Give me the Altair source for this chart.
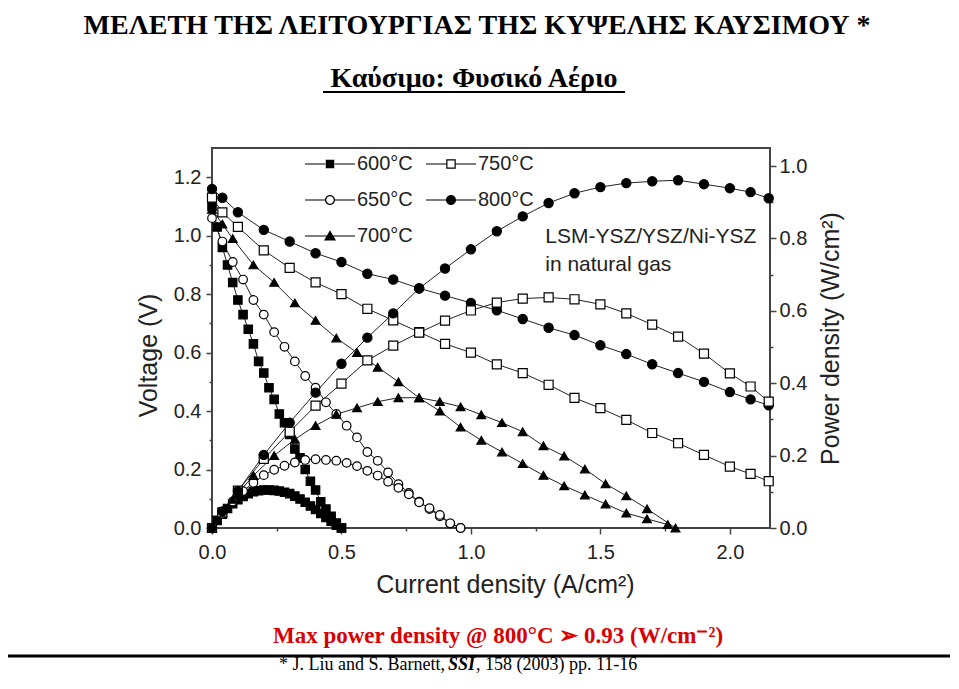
import altair as alt
import pandas as pd

# ---------------- data ----------------
TEMPS = ["600°C", "650°C", "700°C", "750°C", "800°C"]

I_600 = [0.00, 0.02, 0.04, 0.06, 0.08, 0.10, 0.12, 0.14, 0.16, 0.18, 0.20, 0.22, 0.24,
         0.26, 0.28, 0.30, 0.32, 0.34, 0.36, 0.38, 0.40, 0.42, 0.44, 0.46, 0.48, 0.50]
V_600 = [1.10, 1.03, 0.96, 0.90, 0.84, 0.78, 0.73, 0.68, 0.63, 0.57, 0.53, 0.48, 0.44,
         0.39, 0.36, 0.32, 0.27, 0.24, 0.20, 0.16, 0.13, 0.09, 0.065, 0.04, 0.017, 0.0]
P_600 = [0.0, 0.021, 0.038, 0.054, 0.067, 0.078, 0.087, 0.095, 0.100, 0.103, 0.105, 0.105, 0.104,
         0.102, 0.099, 0.095, 0.088, 0.080, 0.071, 0.061, 0.051, 0.040, 0.029, 0.019, 0.008, 0.0]

I_650 = [0.00, 0.04, 0.08, 0.12, 0.16, 0.20, 0.24, 0.28, 0.32, 0.36, 0.40, 0.44, 0.48,
         0.52, 0.56, 0.60, 0.64, 0.68, 0.72, 0.76, 0.80, 0.84, 0.88, 0.92, 0.96]
V_650 = [1.06, 0.98, 0.91, 0.85, 0.78, 0.73, 0.67, 0.62, 0.57, 0.52, 0.48, 0.43, 0.39,
         0.35, 0.31, 0.26, 0.23, 0.19, 0.15, 0.12, 0.09, 0.065, 0.04, 0.015, 0.0]
P_650 = [0.0, 0.039, 0.073, 0.102, 0.125, 0.146, 0.161, 0.172, 0.181, 0.188, 0.190, 0.188, 0.186,
         0.180, 0.171, 0.158, 0.145, 0.128, 0.111, 0.093, 0.071, 0.055, 0.036, 0.013, 0.0]

I_700 = [0.00, 0.04, 0.08, 0.16, 0.24, 0.32, 0.40, 0.48, 0.56, 0.64, 0.72, 0.80,
         0.88, 0.96, 1.04, 1.12, 1.20, 1.28, 1.36, 1.44, 1.52, 1.60, 1.68, 1.76]
V_700 = [1.09, 1.04, 0.99, 0.90, 0.84, 0.77, 0.71, 0.65, 0.60, 0.55, 0.50, 0.445,
         0.40, 0.345, 0.30, 0.26, 0.22, 0.18, 0.144, 0.113, 0.082, 0.051, 0.031, 0.012]
I_700P = [0.00, 0.04, 0.08, 0.16, 0.24, 0.32, 0.40, 0.48, 0.56, 0.64, 0.72, 0.80,
          0.88, 0.96, 1.04, 1.12, 1.20, 1.28, 1.36, 1.44, 1.52, 1.60, 1.68, 1.79]
P_700 = [0.0, 0.042, 0.079, 0.145, 0.200, 0.245, 0.283, 0.314, 0.332, 0.349, 0.360, 0.360,
         0.349, 0.335, 0.313, 0.291, 0.266, 0.227, 0.199, 0.163, 0.122, 0.089, 0.053, 0.0]

I_HI = [0.00, 0.04, 0.10, 0.20, 0.30, 0.40, 0.50, 0.60, 0.70, 0.80, 0.90, 1.00,
        1.10, 1.20, 1.30, 1.40, 1.50, 1.60, 1.70, 1.80, 1.90, 2.00, 2.08, 2.15]
V_750 = [1.13, 1.08, 1.03, 0.95, 0.89, 0.84, 0.80, 0.75, 0.71, 0.67, 0.63, 0.60,
         0.56, 0.53, 0.49, 0.445, 0.41, 0.37, 0.325, 0.29, 0.25, 0.21, 0.185, 0.16]
P_750 = [0.0, 0.043, 0.103, 0.191, 0.266, 0.338, 0.399, 0.463, 0.504, 0.540, 0.573, 0.601,
         0.623, 0.634, 0.637, 0.632, 0.618, 0.593, 0.562, 0.529, 0.482, 0.427, 0.391, 0.349]
V_800 = [1.16, 1.13, 1.08, 1.02, 0.98, 0.94, 0.91, 0.87, 0.85, 0.82, 0.795, 0.77,
         0.745, 0.715, 0.685, 0.66, 0.625, 0.595, 0.56, 0.53, 0.50, 0.465, 0.44, 0.42]
P_800 = [0.0, 0.046, 0.102, 0.202, 0.291, 0.374, 0.454, 0.526, 0.593, 0.662, 0.717, 0.770,
         0.820, 0.861, 0.898, 0.925, 0.942, 0.953, 0.958, 0.961, 0.950, 0.939, 0.928, 0.911]

X_TICKS = [0.0, 0.25, 0.5, 0.75, 1.0, 1.25, 1.5, 1.75, 2.0]
V_TICKS = [0.0, 0.1, 0.2, 0.3, 0.4, 0.5, 0.6, 0.7, 0.8, 0.9, 1.0, 1.1, 1.2]
P_TICKS = [0.0, 0.1, 0.2, 0.3, 0.4, 0.5, 0.6, 0.7, 0.8, 0.9, 1.0]

ANNOT_TEXT = ["LSM-YSZ/YSZ/Ni-YSZ", "in natural gas"]
ANNOT_I = [1.287, 1.287]
ANNOT_V = [0.976, 0.880]

HEADING = "ΜΕΛΕΤΗ ΤΗΣ ΛΕΙΤΟΥΡΓΙΑΣ ΤΗΣ ΚΥΨΕΛΗΣ ΚΑΥΣΙΜΟΥ *"
SUBHEADING = "Καύσιμο: Φυσικό Αέριο"
RED_NOTE = "Max power density @ 800°C ➢ 0.93 (W/cm⁻²)"
FOOT_1 = "* J. Liu and S. Barnett,"
FOOT_2 = "SSI"
FOOT_3 = ", 158 (2003) pp. 11-16"

# ---------------- tables ----------------
def frame(series, col):
    rows = []
    for t, xs, ys in series:
        for x, y in zip(xs, ys):
            rows.append({"T": t, "I": x, col: y})
    return pd.DataFrame(rows)

volt = frame([(TEMPS[0], I_600, V_600), (TEMPS[1], I_650, V_650), (TEMPS[2], I_700, V_700),
              (TEMPS[3], I_HI, V_750), (TEMPS[4], I_HI, V_800)], "V")
power = frame([(TEMPS[0], I_600, P_600), (TEMPS[1], I_650, P_650), (TEMPS[2], I_700P, P_700),
               (TEMPS[3], I_HI, P_750), (TEMPS[4], I_HI, P_800)], "P")
annot = pd.DataFrame({"label": ANNOT_TEXT, "I": ANNOT_I, "V": ANNOT_V})
one = pd.DataFrame({"k": [0]})

SANS = "Liberation Sans"
SERIF = "Liberation Serif"
INK = "#222222"

X = alt.X("I:Q", scale=alt.Scale(domain=[0, 2.155], nice=False, zero=False),
          axis=alt.Axis(values=X_TICKS, title="Current density (A/cm²)", labelFlush=False,
                        labelExpr="datum.value % 0.5 === 0 ? format(datum.value, '.1f') : ''",
                        tickSize={"condition": {"test": "datum.value % 0.5 === 0", "value": 6}, "value": 3},
                        labelPadding=8, titlePadding=10, titleX=293))

vscale = alt.Scale(domain=[0, 1.3], nice=False, zero=False)
pscale = alt.Scale(domain=[0, 1.05], nice=False, zero=False)
even = "round(datum.value * 10) % 2 === 0"

Y_V_AX = alt.Y("V:Q", scale=vscale,
               axis=alt.Axis(values=V_TICKS, orient="left", title="Voltage (V)", labelFlush=False,
                             labelExpr=f"{even} ? format(datum.value, '.1f') : ''",
                             tickSize={"condition": {"test": even, "value": 6}, "value": 3},
                             labelPadding=5, titlePadding=12, titleY=207))
Y_V = alt.Y("V:Q", scale=vscale, axis=None)
Y_P_AX = alt.Y("P:Q", scale=pscale,
               axis=alt.Axis(values=P_TICKS, orient="right", title="Power density (W/cm²)", labelFlush=False,
                             labelExpr=f"{even} ? format(datum.value, '.1f') : ''",
                             tickSize={"condition": {"test": even, "value": 6}, "value": 3},
                             labelPadding=3, titlePadding=12, titleAngle=270, titleBaseline="top"))
Y_P = alt.Y("P:Q", scale=pscale, axis=None)

SHAPE = alt.Shape("T:N", scale=alt.Scale(domain=TEMPS,
                  range=["square", "circle", "triangle-up", "square", "circle"]), legend=None)
FILL = alt.Fill("T:N", scale=alt.Scale(domain=TEMPS,
                range=["black", "white", "black", "white", "black"]), legend=None)
SIZE = alt.Size("T:N", scale=alt.Scale(domain=TEMPS, range=[70, 85, 130, 78, 95]), legend=None)

seg = "M-5,-0.12H-0.95V0.12H-5Z M0.95,-0.12H5V0.12H0.95Z "
circ = "M1,0A1,1,0,1,1,-1,0A1,1,0,1,1,1,0Z "
hole = "M0.74,0A0.74,0.74,0,1,0,-0.74,0A0.74,0.74,0,1,0,0.74,0Z"
PATHS = {
    "600°C": seg + "M-0.85,-0.85H0.85V0.85H-0.85Z",
    "650°C": seg + circ + hole,
    "700°C": "M-5,-0.12H5V0.12H-5Z M0,-1.15L1.2,0.9H-1.2Z",
    "750°C": seg + "M-0.95,-0.95H0.95V0.95H-0.95Z M-0.71,-0.71V0.71H0.71V-0.71Z",
    "800°C": seg + circ,
}

v_lines = alt.Chart(volt).mark_line(color=INK, strokeWidth=1).encode(x=X, y=Y_V_AX, detail="T:N")
p_lines = alt.Chart(power).mark_line(color=INK, strokeWidth=1).encode(x=X, y=Y_P_AX, detail="T:N")
v_pts = alt.Chart(volt).mark_point(filled=True, stroke="black", strokeWidth=1.2, opacity=1).encode(
    x=X, y=Y_V, shape=SHAPE, fill=FILL, size=SIZE)
p_pts = alt.Chart(power).mark_point(filled=True, stroke="black", strokeWidth=1.2, opacity=1).encode(
    x=X, y=Y_P, shape=SHAPE, fill=FILL, size=SIZE)

legend_layer = alt.Chart(volt).mark_point(filled=True, color="black", opacity=0, strokeWidth=0).encode(
    x=X, y=Y_V,
    shape=alt.Shape("T:N", scale=alt.Scale(domain=TEMPS, range=[PATHS[t] for t in TEMPS]),
                    legend=alt.Legend(orient="none", legendX=108, legendY=6, columns=2, title=None,
                                      symbolSize=100, symbolStrokeWidth=0, symbolFillColor="black",
                                      symbolOpacity=1, labelFont=SANS, labelFontSize=20, labelColor=INK,
                                      labelOffset=17, columnPadding=13, rowPadding=16, padding=0,
                                      labelLimit=300)))

annot_layer = alt.Chart(annot).mark_text(align="left", baseline="alphabetic", font=SANS,
                                         fontSize=21, color=INK).encode(x=X, y=Y_V, text="label:N")

def txt(s, x, y, **kw):
    return alt.Chart(one).mark_text(text=s, baseline="alphabetic", **kw).encode(
        x=alt.value(x), y=alt.value(y))

heading = txt(HEADING, 265, -114, align="center", font=SERIF, fontWeight="bold", fontSize=28, color="black")
sub = txt(SUBHEADING, 262, -61, align="center", font=SERIF, fontWeight="bold", fontSize=28, color="black")
underline = alt.Chart(one).mark_rule(color="black", strokeWidth=2).encode(
    x=alt.value(111), x2=alt.value(413), y=alt.value(-56))
red = txt(RED_NOTE, 286, 495, align="center", font=SERIF, fontWeight="bold", fontSize=23, color="#d90000")
sep = alt.Chart(one).mark_rule(color="black", strokeWidth=3).encode(
    x=alt.value(-212), x2=alt.value(745), y=alt.value(508))
f1 = txt(FOOT_1, 233, 522, align="right", font=SERIF, fontSize=18, color="black")
f2 = txt(FOOT_2, 236, 522, align="left", font=SERIF, fontSize=18, fontWeight="bold",
         fontStyle="italic", color="black")
f3 = txt(FOOT_3, 264, 522, align="left", font=SERIF, fontSize=18, color="black")

chart = alt.layer(
    v_lines, p_lines, v_pts, p_pts, legend_layer, annot_layer,
    heading, sub, underline, red, sep, f1, f2, f3
).resolve_scale(
    y="independent", shape="independent", fill="independent", size="independent"
).properties(
    width=558, height=380,
    autosize=alt.AutoSizeParams(type="none"),
    padding={"left": 204, "top": 140, "right": 180, "bottom": 147},
).configure_view(
    stroke="#444444", strokeWidth=2
).configure_axis(
    labelFont=SANS, labelFontSize=20, labelColor=INK,
    titleFont=SANS, titleFontSize=25, titleFontWeight="normal", titleColor=INK,
    domain=False, grid=False, tickColor="#444444", tickWidth=1.5
)

chart.save("out.html", embed_options={"renderer": "svg", "actions": False})
